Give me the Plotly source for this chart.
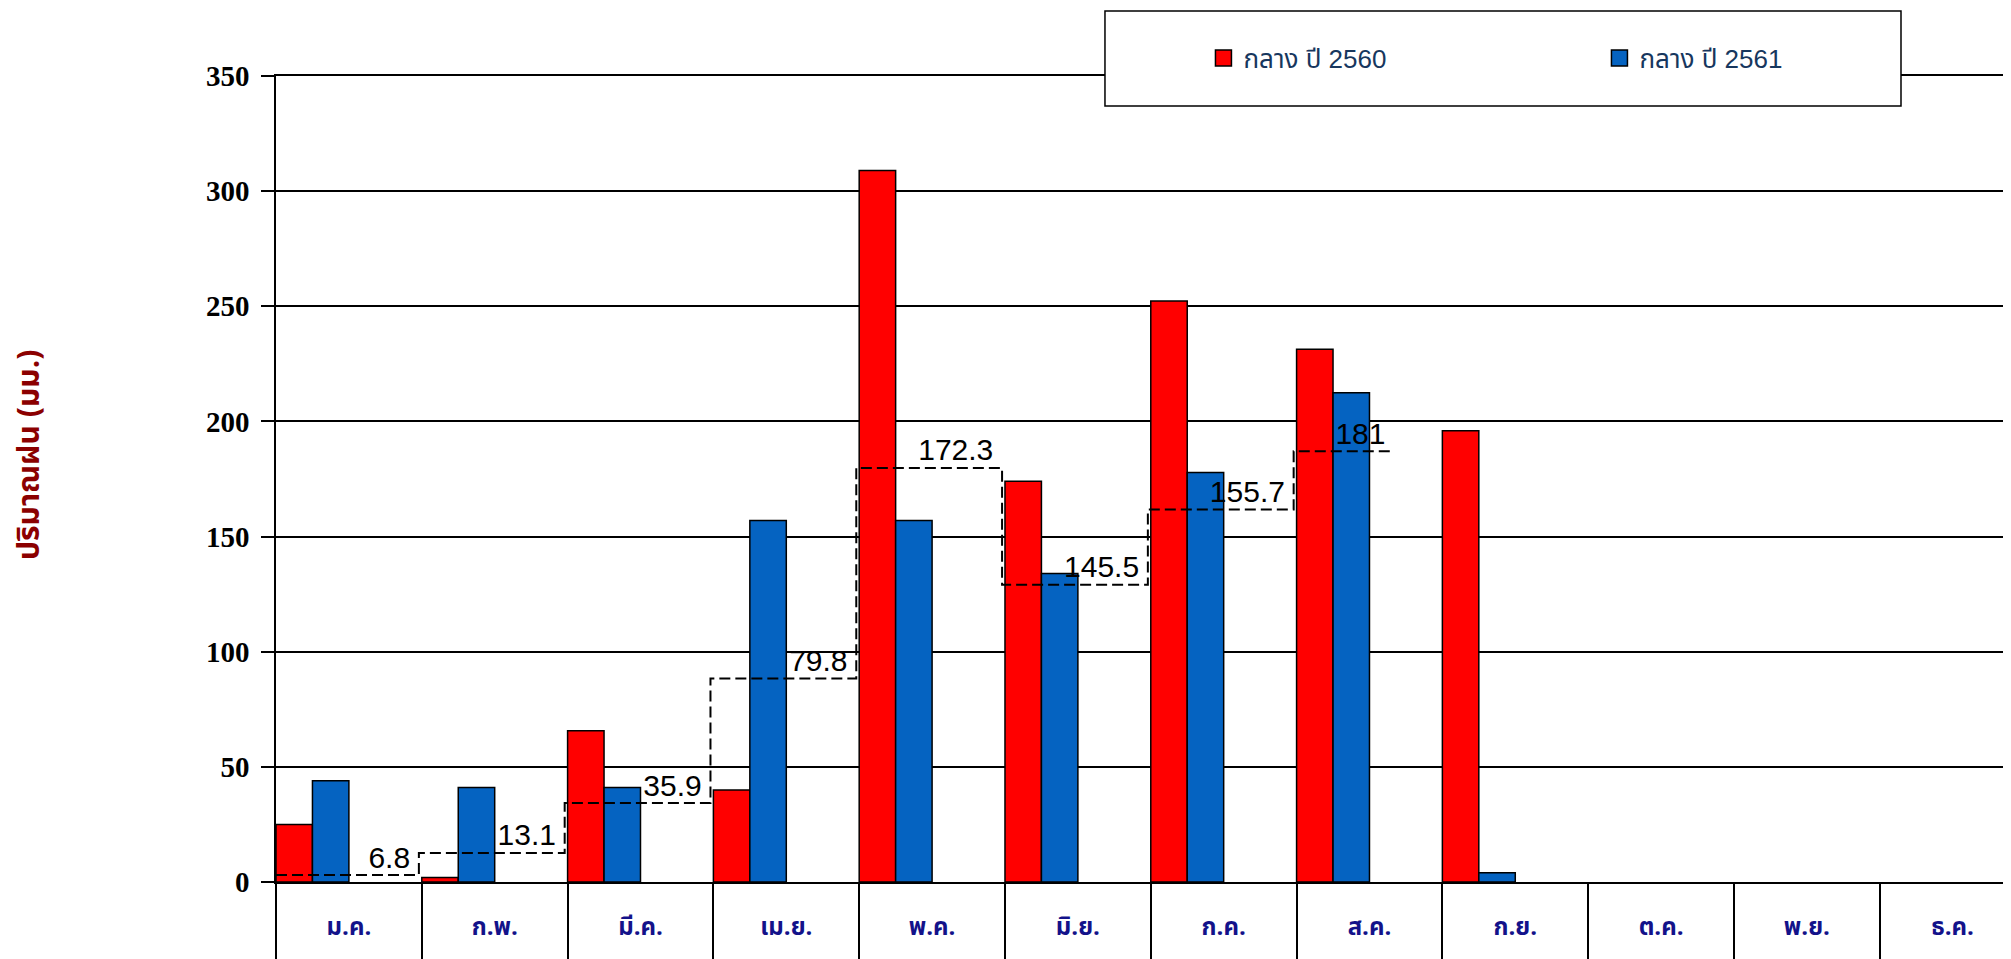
import plotly.graph_objects as go

# ---------------- data ----------------
months = ["ม.ค.", "ก.พ.", "มี.ค.", "เม.ย.", "พ.ค.", "มิ.ย.",
          "ก.ค.", "ส.ค.", "ก.ย.", "ต.ค.", "พ.ย.", "ธ.ค."]
series_names = ["กลาง ปี 2560", "กลาง ปี 2561"]
rain_2560 = [25, 2, 65.7, 40, 309, 174, 252.3, 231.3, 195.9, None, None, None]
rain_2561 = [44, 41, 41, 157, 157, 134, 177.8, 212.4, 4, None, None, None]
normal_line = [3, 12.6, 34.3, 88.4, 179.8, 129.1, 161.8, 187]
normal_labels = ["6.8", "13.1", "35.9", "79.8", "172.3", "145.5", "155.7", "181"]
y_ticks = [0, 50, 100, 150, 200, 250, 300, 350]
y_title = "ปริมาณฝน (มม.)"

RED = "#FF0000"
BLUE = "#0563C1"
THAI = "Noto Sans Thai, Noto Sans Thai UI, Tahoma, Noto Sans, sans-serif"
XR = [-0.5, 11.455]

fig = go.Figure()

# bars: grouped at the left half of each month slot
fig.add_trace(go.Bar(x=months, y=rain_2560, name=series_names[0], width=0.25, offset=-0.5,
                     marker=dict(color=RED, line=dict(color="black", width=1.5)),
                     showlegend=False))
fig.add_trace(go.Bar(x=months, y=rain_2561, name=series_names[1], width=0.25, offset=-0.25,
                     marker=dict(color=BLUE, line=dict(color="black", width=1.5)),
                     showlegend=False))

# dashed step line (normal) on an overlaid numeric x axis
n = len(normal_line)
step_x = [-0.5] + [i + 0.48 for i in range(n - 1)] + [n - 1 + 0.17]
step_y = normal_line + [normal_line[-1]]
fig.add_trace(go.Scatter(x=step_x, y=step_y, xaxis="x2", mode="lines", line_shape="hv",
                         line=dict(color="black", width=2, dash="11px,5px"),
                         showlegend=False, hoverinfo="skip"))

# labels of the normal line near the right end of each segment
label_x = [v - 0.06 for v in step_x[1:]]
fig.add_trace(go.Scatter(x=label_x, y=normal_line, xaxis="x2", mode="text",
                         text=normal_labels, textposition="top left",
                         textfont=dict(family="Liberation Sans, Arial", size=30, color="black"),
                         showlegend=False, hoverinfo="skip"))

# legend proxies
for name, col in zip(series_names, [RED, BLUE]):
    fig.add_trace(go.Scatter(x=[None], y=[None], mode="markers", name=name,
                             marker=dict(symbol="square", size=20, color=col,
                                         line=dict(color="black", width=1.5))))

# legend box
fig.add_shape(type="rect", xref="paper", yref="paper", x0=0.4756, x1=0.9323, y0=0.9628, y1=1.0806,
              fillcolor="white", line=dict(color="black", width=1.5), layer="above")

fig.add_annotation(text=y_title, xref="paper", yref="paper", x=-0.1411, y=0.5298,
                   textangle=-90, showarrow=False, xanchor="center", yanchor="middle",
                   font=dict(family=THAI, size=30, color="#8B0000", weight="bold"))

fig.update_layout(
    width=2011, height=959,
    margin=dict(l=268, r=0, t=68, b=85, autoexpand=False),
    paper_bgcolor="white", plot_bgcolor="white",
    barmode="overlay",
    showlegend=True,
    legend=dict(orientation="h", x=0.5321, xanchor="left", y=1.0223, yanchor="middle",
                bgcolor="rgba(0,0,0,0)", entrywidth=351,
                font=dict(family="Liberation Sans, " + THAI, size=26, color="#17375E")),
    xaxis=dict(type="category", range=XR, tickson="boundaries", ticks="outside",
               ticklen=90, tickwidth=1.5, tickcolor="black", ticklabelstandoff=22,
               showgrid=False, showline=True, mirror=True, linecolor="black", linewidth=2,
               tickfont=dict(family=THAI, size=24, color="#13128A", weight="bold"),
               automargin=False),
    xaxis2=dict(overlaying="x", type="linear", range=XR, visible=False),
    yaxis=dict(range=[0, 350], tickvals=y_ticks, showgrid=True, gridcolor="black", gridwidth=1.5,
               zeroline=False, showline=True, linecolor="black", linewidth=1.5,
               ticks="outside", ticklen=13, tickwidth=1.5, tickcolor="black",
               ticklabelstandoff=6, automargin=False,
               tickfont=dict(family="Liberation Serif, Times New Roman", size=29, color="black",
                             weight="bold")),
)

fig.write_html("out.html")
